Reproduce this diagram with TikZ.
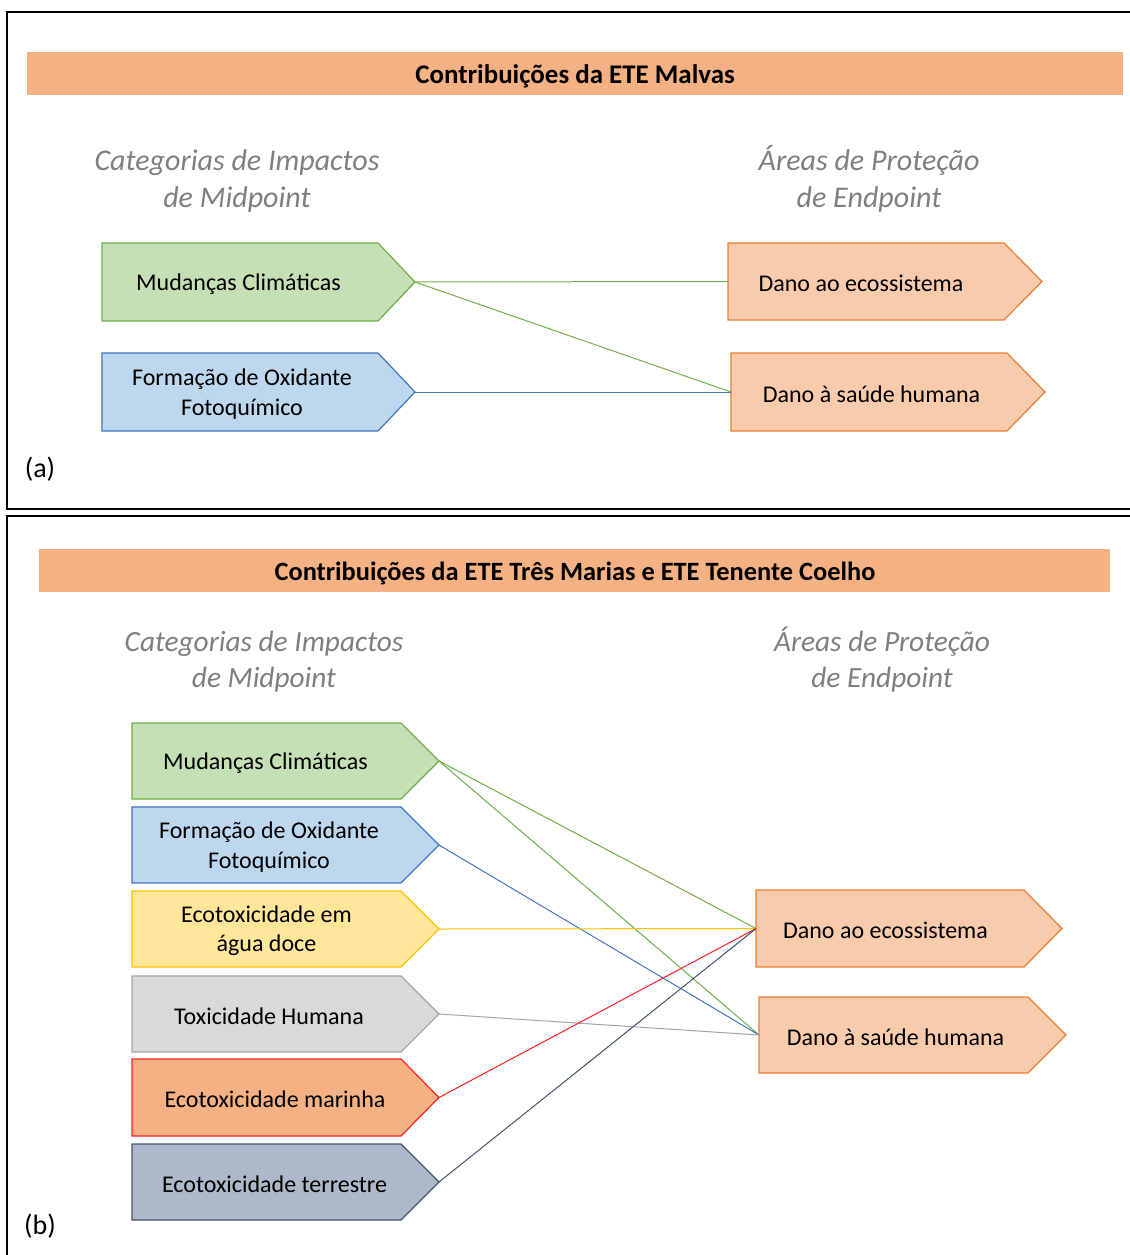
\documentclass[tikz,border=0pt]{standalone}
\usepackage{fontspec}
\setmainfont{Carlito}
\usetikzlibrary{calc}

\definecolor{barfill}{HTML}{F4B183}
\definecolor{grnfill}{HTML}{C5E0B4}\definecolor{grnline}{HTML}{70AD47}
\definecolor{blufill}{HTML}{BDD7EE}\definecolor{bluline}{HTML}{4472C4}
\definecolor{yelfill}{HTML}{FFE699}\definecolor{yelline}{HTML}{FFC000}
\definecolor{gryfill}{HTML}{D9D9D9}\definecolor{gryline}{HTML}{A5A5A5}
\definecolor{marfill}{HTML}{F4B183}\definecolor{marline}{HTML}{FF2020}
\definecolor{terfill}{HTML}{ADB9CA}\definecolor{terline}{HTML}{44546A}
\definecolor{endfill}{HTML}{F8CBAD}\definecolor{endline}{HTML}{ED7D31}
\definecolor{headgray}{HTML}{7F7F7F}

% pentagon-shaped category box:
% name, style, left x, top y, body right x, tip x, bottom y, text x offset, text
\newcommand{\pentabox}[9]{%
  \draw[#2] (#3,#4) -- (#5,#4) -- (#6,{(#4+#7)/2}) -- (#5,#7) -- (#3,#7) -- cycle;
  \node[boxtext] (#1) at ({(#3+#5)/2+#8},{(#4+#7)/2+2}) {#9};
  \coordinate (#1-tip) at (#6,{(#4+#7)/2});
  \coordinate (#1-in) at (#3,{(#4+#7)/2});
}

\tikzset{
  frame/.style={line width=1.5pt, black},
  bartext/.style={inner sep=0pt, font=\fontsize{20.2}{24}\selectfont\bfseries},
  heading/.style={align=center, text=headgray, inner sep=0pt,
    font=\fontsize{22.5}{27.5}\selectfont\itshape},
  boxtext/.style={align=center, inner sep=0pt, text=black,
    font=\fontsize{18}{22}\selectfont},
  panel/.style={inner sep=0pt, font=\fontsize{21}{24}\selectfont},
  grnbox/.style={fill=grnfill, draw=grnline, line width=0.9pt},
  blubox/.style={fill=blufill, draw=bluline, line width=0.9pt},
  yelbox/.style={fill=yelfill, draw=yelline, line width=0.9pt},
  grybox/.style={fill=gryfill, draw=gryline, line width=0.9pt},
  marbox/.style={fill=marfill, draw=marline, line width=0.9pt},
  terbox/.style={fill=terfill, draw=terline, line width=0.9pt},
  endbox/.style={fill=endfill, draw=endline, line width=0.9pt},
  link/.style={line width=0.75pt},
}

\begin{document}
\begin{tikzpicture}[x=0.75pt, y=-0.75pt]
\useasboundingbox (0,0) rectangle (1130,1255);

% ---------- panel (a) ----------
\draw[frame] (1131,12) -- (7,12) -- (7,509) -- (1131,509);
\fill[barfill] (27,52) rectangle (1123,95);
\node[bartext] (titleA) at (575,76) {Contribuições da ETE Malvas};
\node[heading] (midA) at (237,181) {Categorias de Impactos\\de Midpoint};
\node[heading] (endA) at (869,179) {Áreas de Proteção\\de Endpoint};

\pentabox{mcA}{grnbox}{102}{243}{378}{415}{321}{-1.5}{Mudanças Climáticas}
\pentabox{fofA}{blubox}{102}{353}{378}{415}{431}{2}{Formação de Oxidante\\Fotoquímico}
\pentabox{deA}{endbox}{728}{243}{1004}{1042}{320}{-5}{Dano ao ecossistema}
\pentabox{dshA}{endbox}{731}{353}{1007}{1045}{431}{2.5}{Dano à saúde humana}

\draw[link, grnline] (mcA-tip) -- (deA-in);
\draw[link, grnline] (mcA-tip) -- (dshA-in);
\draw[link, bluline] (fofA-tip) -- (dshA-in);

\node[panel] (labA) at (40,469) {(a)};

% ---------- panel (b) ----------
\draw[frame] (1131,516) -- (7,516) -- (7,1256);
\fill[barfill] (39,549) rectangle (1110,592);
\node[bartext, font=\fontsize{19.8}{24}\selectfont\bfseries] (titleB) at (575,573) {Contribuições da ETE Três Marias e ETE Tenente Coelho};
\node[heading, font=\fontsize{22}{27}\selectfont\itshape] (midB) at (264,662) {Categorias de Impactos\\de Midpoint};
\node[heading, font=\fontsize{22}{27}\selectfont\itshape] (endB) at (882,660) {Áreas de Proteção\\de Endpoint};

\pentabox{mcB}{grnbox}{132}{723}{401}{439}{799}{-1}{Mudanças Climáticas}
\pentabox{fofB}{blubox}{132}{807}{401}{439}{883}{2.5}{Formação de Oxidante\\Fotoquímico}
\pentabox{eadB}{yelbox}{132}{891}{401}{439}{967}{0}{Ecotoxicidade em\\água doce}
\pentabox{thB}{grybox}{132}{976}{401}{439}{1052}{2.5}{Toxicidade Humana}
\pentabox{emB}{marbox}{132}{1059}{401}{439}{1136}{8.5}{Ecotoxicidade marinha}
\pentabox{etB}{terbox}{132}{1144}{401}{439}{1220}{8}{Ecotoxicidade terrestre}
\pentabox{deB}{endbox}{756}{890}{1024}{1062}{967}{-4.5}{Dano ao ecossistema}
\pentabox{dshB}{endbox}{759}{997}{1028}{1066}{1073}{2}{Dano à saúde humana}

\draw[link, grnline] (mcB-tip) -- (deB-in);
\draw[link, grnline] (mcB-tip) -- (dshB-in);
\draw[link, bluline] (fofB-tip) -- (dshB-in);
\draw[link, yelline] (eadB-tip) -- (deB-in);
\draw[link, gryline] (thB-tip) -- (dshB-in);
\draw[link, marline] (emB-tip) -- (deB-in);
\draw[link, terline] (etB-tip) -- (deB-in);

\node[panel] (labB) at (40,1226) {(b)};
\end{tikzpicture}
\end{document}
